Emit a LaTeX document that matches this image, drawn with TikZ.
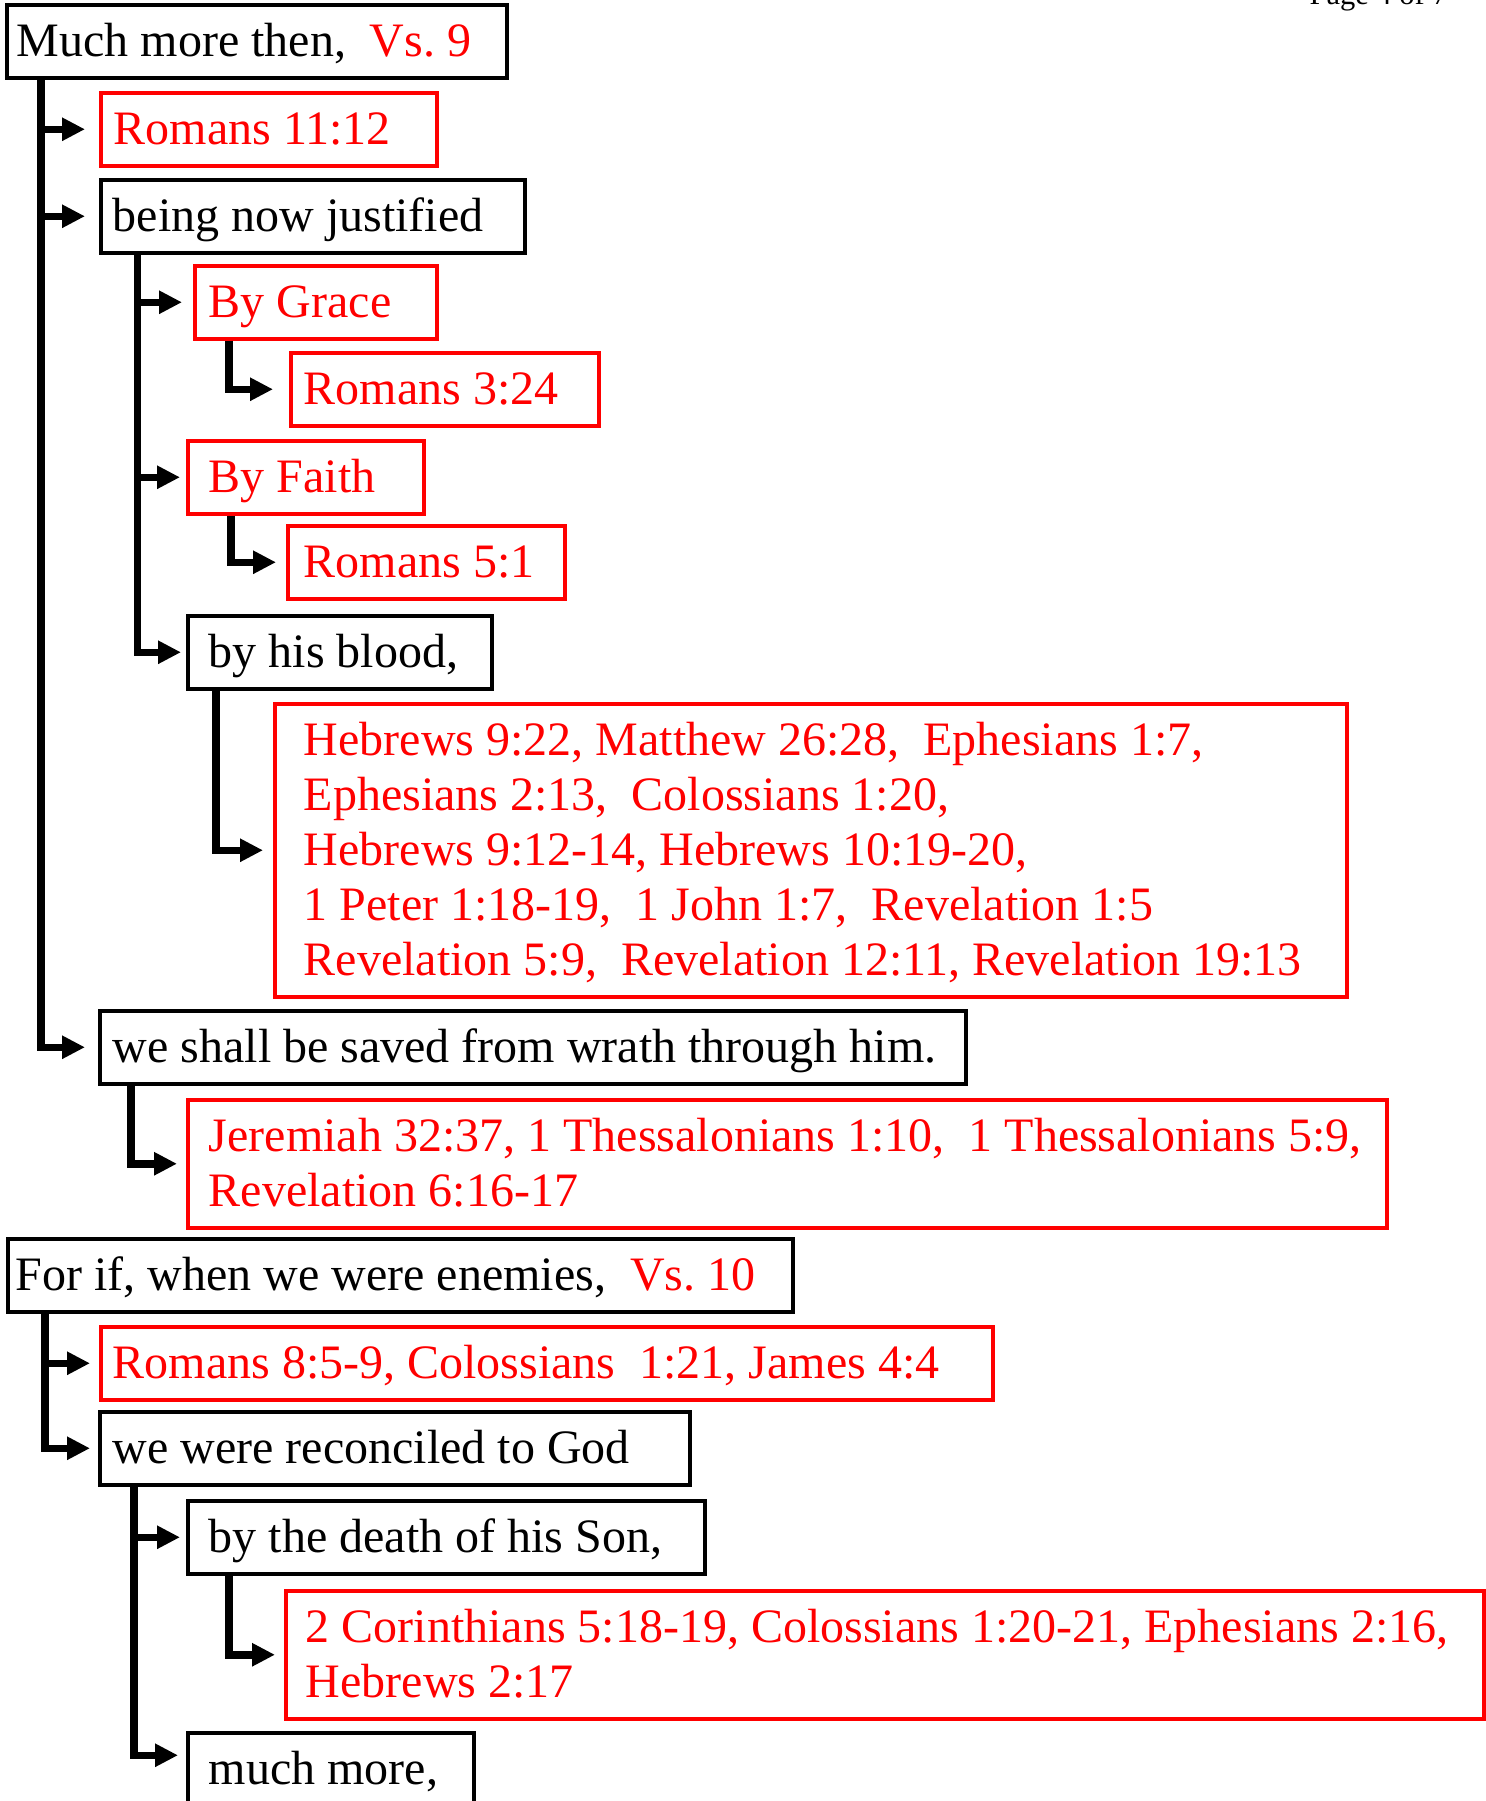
\documentclass[tikz,border=0pt]{standalone}
\usepackage{fontspec}
\setmainfont{Liberation Serif}
\usetikzlibrary{arrows.meta}
\newcommand\FirstS{\rule{0pt}{26pt}}
\newcommand\LastS{\rule[-10.5pt]{0pt}{10.5pt}}
\newcommand\OneS{\rule[-10.5pt]{0pt}{36.5pt}}
\tikzset{
  bx/.style={draw, line width=1.75pt, anchor=north west, inner ysep=0pt, align=flush left,
    font=\fontsize{24pt}{27.5pt}\selectfont},
  blk/.style={bx, draw=black, text=black},
  rd/.style={bx, draw=red, text=red},
  conn/.style={line width=3.75pt, -{Triangle[length=11.5pt,width=11pt]}},
}
\begin{document}
\frenchspacing
\begin{tikzpicture}[x=0.5pt,y=-0.5pt]
\useasboundingbox (0,0) rectangle (1485,1801);

\node[anchor=base east, inner sep=0pt, font=\fontsize{15.25pt}{18pt}\selectfont] (pg) at (1448,4) {Page 4 of 7};

\node[blk, inner xsep=5pt, text width=240pt] (b1) at (5,3) {\mbox{\OneS Much more then,~ \textcolor{red}{Vs. 9}}};
\node[rd, inner xsep=6.5pt, text width=155pt] (b2) at (99,91) {\mbox{\OneS Romans 11:12}};
\node[blk, inner xsep=6pt, text width=200pt] (b3) at (99,178) {\mbox{\OneS being now justified}};
\node[rd, inner xsep=7pt, text width=107pt] (b4) at (193,264) {\mbox{\OneS By Grace}};
\node[rd, inner xsep=6.5pt, text width=141pt] (b5) at (289,351) {\mbox{\OneS Romans 3:24}};
\node[rd, inner xsep=10.5pt, text width=97pt] (b6) at (186,439) {\mbox{\OneS By Faith}};
\node[rd, inner xsep=8pt, text width=122.5pt] (b7) at (286,524) {\mbox{\OneS Romans 5:1}};
\node[blk, inner xsep=10.5pt, text width=131pt] (b8) at (186,614) {\mbox{\OneS by his blood,}};
\node[rd, inner xsep=14.5pt, text width=507pt] (b9) at (273,702) {\mbox{\FirstS Hebrews 9:22, Matthew 26:28,~ Ephesians 1:7,}\\
\mbox{Ephesians 2:13,~ Colossians 1:20,}\\
\mbox{Hebrews 9:12-14, Hebrews 10:19-20,}\\
\mbox{1 Peter 1:18-19,~ 1 John 1:7,~ Revelation 1:5}\\
\mbox{Revelation 5:9,~ Revelation 12:11, Revelation 19:13\LastS}};
\node[blk, inner xsep=6.5pt, text width=420pt] (b10) at (98,1009) {\mbox{\OneS we shall be saved from wrath through him.}};
\node[rd, inner xsep=10.5pt, text width=578.5pt] (b11) at (186,1098) {\mbox{\FirstS Jeremiah 32:37, 1 Thessalonians 1:10,~ 1 Thessalonians 5:9,}\\
\mbox{Revelation 6:16-17\LastS}};
\node[blk, inner xsep=4pt, text width=384.5pt] (b12) at (6,1237) {\mbox{\OneS For if, when we were enemies,~ \textcolor{red}{Vs. 10}}};
\node[rd, inner xsep=6pt, text width=434pt] (b13) at (99,1325) {\mbox{\OneS Romans 8:5-9, Colossians~ 1:21, James 4:4}};
\node[blk, inner xsep=6.5pt, text width=282pt] (b14) at (98,1410) {\mbox{\OneS we were reconciled to God}};
\node[blk, inner xsep=10.5pt, text width=237.5pt] (b15) at (186,1499) {\mbox{\OneS by the death of his Son,}};
\node[rd, inner xsep=10pt, text width=579pt] (b16) at (284,1589) {\mbox{\FirstS 2 Corinthians 5:18-19, Colossians 1:20-21, Ephesians 2:16,}\\
\mbox{Hebrews 2:17\LastS}};
\node[blk, inner xsep=10.5pt, text width=122pt] (b17) at (186,1731) {\mbox{\OneS much more,}};

\draw[conn, shorten >=7pt] ([xshift=18pt]b1.south west) |- (b2.west);
\draw[conn, shorten >=7pt] ([xshift=18pt]b1.south west) |- (b3.west);
\draw[conn, shorten >=6.5pt] ([xshift=18pt]b1.south west) |- (b10.west);

\draw[conn, shorten >=5.5pt] ([xshift=19.25pt]b3.south west) |- (b4.west);
\draw[conn, shorten >=3pt] ([xshift=19.25pt]b3.south west) |- (b6.west);
\draw[conn, shorten >=2.5pt] ([xshift=19.25pt]b3.south west) |- (b8.west);

\draw[conn, shorten >=8pt] ([xshift=18pt]b4.south west) |- (b5.west);
\draw[conn, shorten >=5pt] ([xshift=22.5pt]b6.south west) |- (b7.west);
\draw[conn, shorten >=5pt] ([xshift=15pt]b8.south west) |- (b9.west);

\draw[conn, shorten >=4.5pt] ([xshift=16.5pt]b10.south west) |- (b11.west);

\draw[conn, shorten >=4.5pt] ([xshift=19.5pt]b12.south west) |- (b13.west);
\draw[conn, shorten >=4pt] ([xshift=19.5pt]b12.south west) |- (b14.west);

\draw[conn, shorten >=3pt] ([xshift=18pt]b14.south west) |- (b15.west);
\draw[conn, shorten >=4pt] ([xshift=18pt]b14.south west) |- ([yshift=7pt]b17.west);

\draw[conn, shorten >=4.5pt] ([xshift=21.5pt]b15.south west) |- (b16.west);
\end{tikzpicture}
\end{document}
